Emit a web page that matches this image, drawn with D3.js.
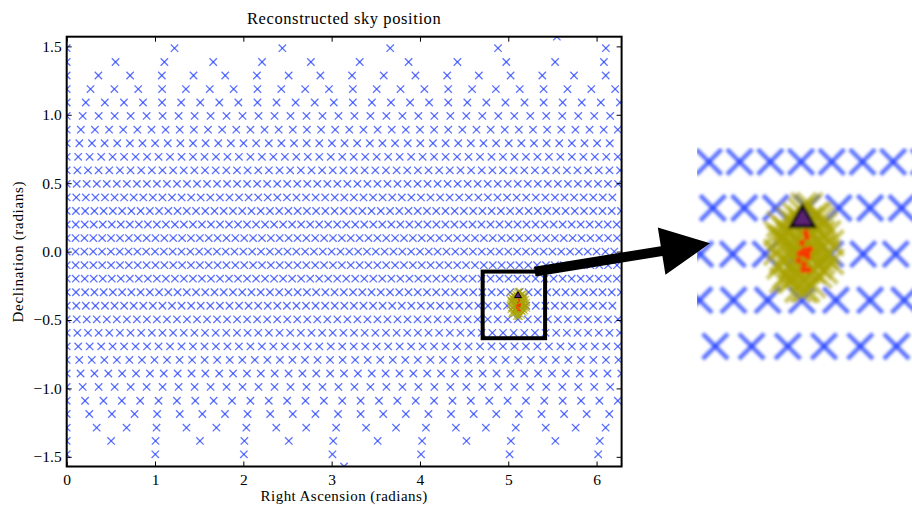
<!DOCTYPE html>
<html>
<head>
<meta charset="utf-8">
<script src="https://cdn.jsdelivr.net/npm/d3@7"></script>
<style>
body { margin: 0; background: #fff; }
text { font-family: "Liberation Serif", serif; fill: #000; }
</style>
</head>
<body>
<script>
// declination of each grid row (top to bottom) and its right ascension spacing
const rowDec = [1.487, 1.386, 1.287, 1.188, 1.090, 0.992, 0.891, 0.792, 0.693, 0.594, 0.495,
    0.396, 0.297, 0.198, 0.099, 0.0, -0.099, -0.198, -0.297, -0.396, -0.495, -0.594, -0.693,
    -0.792, -0.891, -0.989, -1.090, -1.187, -1.287, -1.384, -1.482];
const rowStep = [1.221, 0.553, 0.359, 0.270, 0.216, 0.181, 0.160, 0.143, 0.130, 0.1205, 0.1135,
    0.1084, 0.1046, 0.1021, 0.1005, 0.1000, 0.1005, 0.1021, 0.1046, 0.1084, 0.1135, 0.1205, 0.130,
    0.142, 0.157, 0.181, 0.208, 0.256, 0.339, 0.503, 1.003];
const poleRA = [5.55, 3.14];
const poleDec = [1.5708, -1.5708];

// posterior samples (yellow), injections (red), true position (triangle)
const sampleRA = [5.114, 5.144, 5.074, 5.174, 5.044, 5.134, 5.094, 5.194, 5.034, 5.164,
    5.064, 5.124, 5.104, 5.154, 5.074, 5.184, 5.054, 5.204, 5.024, 5.144,
    5.084, 5.174, 5.054, 5.114, 5.124, 5.134, 5.094, 5.164, 5.064, 5.124,
    5.104, 5.184, 5.034, 5.144, 5.084, 5.164, 5.064, 5.154, 5.084, 5.114,
    5.134, 5.094, 5.194, 5.034, 5.174, 5.054, 5.154, 5.074, 5.114, 5.104,
    5.184, 5.044, 5.204, 5.024, 5.144, 5.084, 5.124, 5.104, 5.164, 5.064,
    5.134, 5.094, 5.174, 5.044, 5.114, 5.114];
const sampleDec = [-0.382, -0.402, -0.372, -0.352, -0.412, -0.322, -0.442, -0.392, -0.362, -0.442,
    -0.322, -0.472, -0.302, -0.312, -0.452, -0.332, -0.442, -0.372, -0.392, -0.352,
    -0.412, -0.412, -0.342, -0.332, -0.432, -0.402, -0.362, -0.372, -0.392, -0.362,
    -0.402, -0.432, -0.332, -0.462, -0.312, -0.312, -0.452, -0.392, -0.382, -0.412,
    -0.292, -0.472, -0.352, -0.422, -0.382, -0.372, -0.342, -0.422, -0.452, -0.322,
    -0.402, -0.362, -0.412, -0.352, -0.432, -0.332, -0.342, -0.422, -0.422, -0.352,
    -0.382, -0.392, -0.322, -0.452, -0.292, -0.472];
const redRA = [5.119, 5.108, 5.128, 5.100, 5.135, 5.115, 5.124, 5.097, 5.112, 5.130, 5.121];
const redDec = [-0.392, -0.372, -0.402, -0.395, -0.385, -0.418, -0.360, -0.410, -0.430, -0.430, -0.350];
const trueRA = [5.110];
const trueDec = [-0.322];

const xTicks = [0, 1, 2, 3, 4, 5, 6];
const yTicks = [-1.5, -1.0, -0.5, 0.0, 0.5, 1.0, 1.5];
const boxRA = [4.71, 5.417];
const boxDec = [-0.633, -0.146];
const insetRA = [4.759, 5.474];
const insetDec = [-0.632, -0.166];

const W = 912, H = 505;
const m = { left: 66.7, top: 36.7, right: 621.6, bottom: 466.5 };

const svg = d3.select('body').append('svg').attr('width', W).attr('height', H);
const defs = svg.append('defs');
defs.append('clipPath').attr('id', 'plotclip')
    .append('rect').attr('x', m.left).attr('y', m.top)
    .attr('width', m.right - m.left).attr('height', m.bottom - m.top);
defs.append('clipPath').attr('id', 'insetclip')
    .append('rect').attr('x', 697).attr('y', 147).attr('width', 215).attr('height', 217);
defs.append('filter').attr('id', 'soft')
    .append('feGaussianBlur').attr('stdDeviation', 1.4);

const x = d3.scaleLinear().domain([0, 2 * Math.PI]).range([m.left, m.right]);
const y = d3.scaleLinear().domain([-Math.PI / 2, Math.PI / 2]).range([m.bottom, m.top]);

const grid = [];
rowDec.forEach((dec, r) => {
    d3.range(0, 2 * Math.PI, rowStep[r]).forEach(ra => grid.push([ra, dec]));
});
poleRA.forEach((ra, i) => grid.push([ra, poleDec[i]]));
const samples = sampleRA.map((ra, i) => [ra, sampleDec[i]]);
const reds = redRA.map((ra, i) => [ra, redDec[i]]);
const truth = trueRA.map((ra, i) => [ra, trueDec[i]]);

function crosses(g, pts, xs, ys, k, color, op) {
    const s = 3.7 * k;
    const c = g.append('g').attr('stroke', color).attr('stroke-width', 1.3 * k).attr('stroke-opacity', op);
    c.selectAll('path').data(pts).enter().append('path')
        .attr('d', d => {
            const px = xs(d[0]), py = ys(d[1]);
            return `M${px - s},${py - s}L${px + s},${py + s}`;
        });
    c.selectAll('line').data(pts).enter().append('line')
        .attr('x1', d => xs(d[0]) - s).attr('y1', d => ys(d[1]) + s)
        .attr('x2', d => xs(d[0]) + s).attr('y2', d => ys(d[1]) - s);
}

function layer(g, xs, ys, k) {
    crosses(g, grid, xs, ys, k, '#1f3cff', 0.72);
    crosses(g, samples, xs, ys, k, '#a8a100', 0.6);
    g.append('g').selectAll('circle').data(reds).enter().append('circle')
        .attr('cx', d => xs(d[0])).attr('cy', d => ys(d[1]))
        .attr('r', (d, i) => (i === 0 ? 1.6 : 0.9) * k)
        .attr('fill', '#ff2a00').attr('opacity', 0.85);
    g.append('g').selectAll('path').data(truth).enter().append('path')
        .attr('transform', d => `translate(${xs(d[0])},${ys(d[1])})`)
        .attr('d', d3.symbol(d3.symbolTriangle, 21 * k * k))
        .attr('fill', '#5b2374').attr('stroke', '#000').attr('stroke-width', 1.0 * k);
}

// main panel
layer(svg.append('g').attr('clip-path', 'url(#plotclip)'), x, y, 1);

svg.append('rect')
    .attr('x', m.left).attr('y', m.top)
    .attr('width', m.right - m.left).attr('height', m.bottom - m.top)
    .attr('fill', 'none').attr('stroke', '#000').attr('stroke-width', 2);

const fs = '15.5px';
const xb = svg.append('g').attr('transform', `translate(0,${m.bottom})`)
    .call(d3.axisBottom(x).tickValues(xTicks).tickSize(-5).tickPadding(7).tickFormat(d3.format('d')));
const xt = svg.append('g').attr('transform', `translate(0,${m.top})`)
    .call(d3.axisTop(x).tickValues(xTicks).tickSize(-5).tickFormat(''));
const yl = svg.append('g').attr('transform', `translate(${m.left},0)`)
    .call(d3.axisLeft(y).tickValues(yTicks).tickSize(-5).tickPadding(5)
        .tickFormat(d => d3.format('.1f')(d).replace('-', '\u2212')));
const yr = svg.append('g').attr('transform', `translate(${m.right},0)`)
    .call(d3.axisRight(y).tickValues(yTicks).tickSize(-5).tickFormat(''));
[xb, xt, yl, yr].forEach(a => {
    a.attr('font-family', null);
    a.select('.domain').remove();
    a.selectAll('line').attr('stroke', '#000').attr('stroke-width', 1);
    a.selectAll('text').style('font-family', '"Liberation Serif", serif').style('font-size', fs);
});

svg.append('text').attr('x', (m.left + m.right) / 2).attr('y', 24)
    .attr('text-anchor', 'middle').style('font-size', '16.5px').style('letter-spacing', '0.6px')
    .text('Reconstructed sky position');
svg.append('text').attr('x', (m.left + m.right) / 2).attr('y', 501)
    .attr('text-anchor', 'middle').style('font-size', '15px').style('letter-spacing', '0.45px')
    .text('Right Ascension (radians)');
svg.append('text')
    .attr('transform', `translate(23,${(m.top + m.bottom) / 2}) rotate(-90)`)
    .attr('text-anchor', 'middle').style('font-size', '15px').style('letter-spacing', '0.7px')
    .text('Declination (radians)');

// zoomed inset on the right
const xi = d3.scaleLinear().domain(insetRA).range([697, 912]);
const yi = d3.scaleLinear().domain(insetDec).range([364, 147]);
const zoomK = (xi(1) - xi(0)) / (x(1) - x(0));
const inset = svg.append('g').attr('clip-path', 'url(#insetclip)')
    .append('g').attr('filter', 'url(#soft)');
layer(inset, xi, yi, zoomK);

// box around the source and arrow to the inset
svg.append('rect')
    .attr('x', x(boxRA[0])).attr('y', y(boxDec[1]))
    .attr('width', x(boxRA[1]) - x(boxRA[0])).attr('height', y(boxDec[0]) - y(boxDec[1]))
    .attr('fill', 'none').attr('stroke', '#000').attr('stroke-width', 4);

const tail = [x(5.30), y(boxDec[1])];
const tip = [710, 243.3];
const dx = tip[0] - tail[0], dy = tip[1] - tail[1];
const len = Math.hypot(dx, dy);
const u = [dx / len, dy / len], n = [-u[1], u[0]];
const headL = 49, headW = 24, shaftW = 5;
const base = [tip[0] - u[0] * headL, tip[1] - u[1] * headL];
const P = (p, a) => [p[0] + n[0] * a, p[1] + n[1] * a];
const arrow = [P(tail, shaftW), P(base, shaftW), P(base, headW), tip,
    P(base, -headW), P(base, -shaftW), P(tail, -shaftW)];
svg.append('path').attr('d', d3.line()(arrow) + 'Z').attr('fill', '#000');
</script>
</body>
</html>
